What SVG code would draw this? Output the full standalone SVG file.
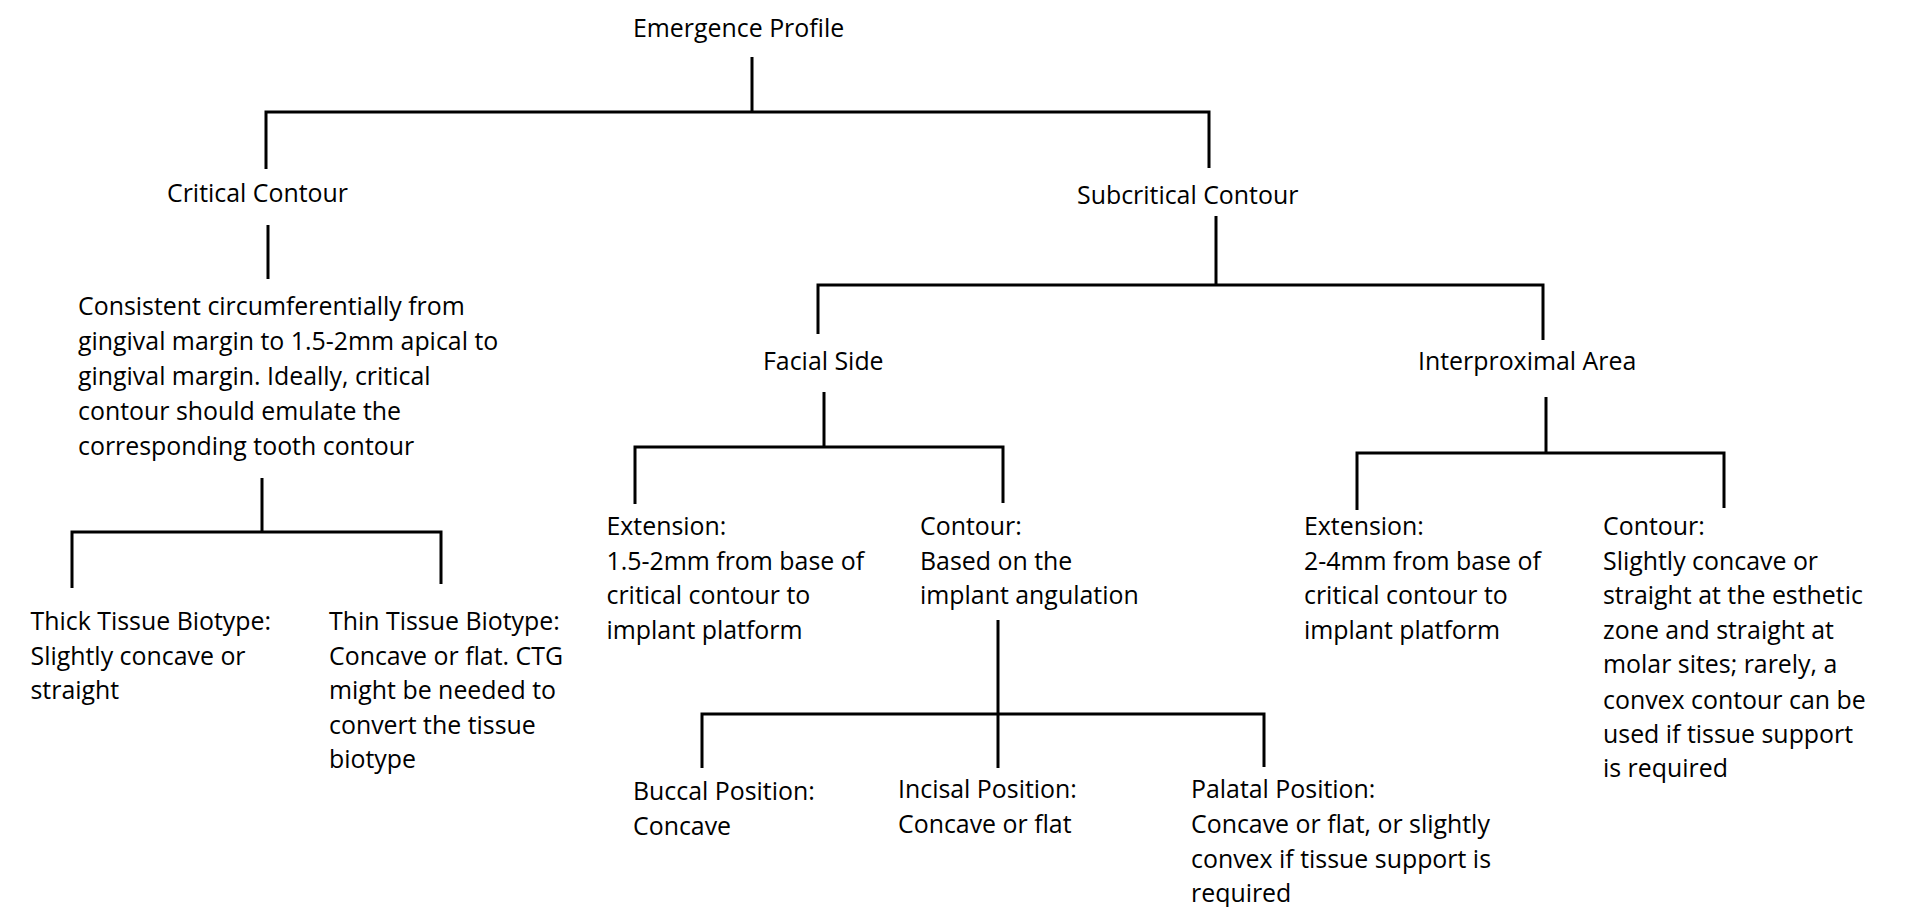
<svg xmlns="http://www.w3.org/2000/svg" width="1913" height="907" viewBox="0 0 1913 907">
<style>
  text { font-family: "Open Sans", "Noto Sans", "Liberation Sans", sans-serif; font-size: 24.9px; fill: #000; }
  .conn path { fill: none; stroke: #000; stroke-width: 3; stroke-linecap: butt; stroke-linejoin: miter; }
</style>
<rect x="0" y="0" width="1913" height="907" fill="#fff"/>
<g id="connectors" class="conn">
  <path d="M752,57 V112"/>
  <path d="M266,169 V112 H1209 V168"/>
  <path d="M268,225 V279"/>
  <path d="M1216,216 V285"/>
  <path d="M818,334 V285 H1543 V340"/>
  <path d="M262,478 V532"/>
  <path d="M72,588 V532 H441 V584"/>
  <path d="M824,392 V447"/>
  <path d="M635,504 V447 H1003 V503"/>
  <path d="M1546,397 V452"/>
  <path d="M1357,510 V453 H1724 V508"/>
  <path d="M998,620 V768"/>
  <path d="M702,768 V714 H1264 V767"/>
</g>
<g id="n-emergence"><text x="633" y="37">Emergence Profile</text></g>
<g id="n-critical"><text x="167" y="202">Critical Contour</text></g>
<g id="n-subcritical"><text x="1077" y="204">Subcritical Contour</text></g>
<g id="n-critical-desc"><text>
  <tspan x="78" y="315">Consistent circumferentially from</tspan>
  <tspan x="78" y="350">gingival margin to 1.5-2mm apical to</tspan>
  <tspan x="78" y="385">gingival margin. Ideally, critical</tspan>
  <tspan x="78" y="420">contour should emulate the</tspan>
  <tspan x="78" y="455">corresponding tooth contour</tspan>
</text></g>
<g id="n-thick"><text>
  <tspan x="30.5" y="630">Thick Tissue Biotype:</tspan>
  <tspan x="30.5" y="665">Slightly concave or</tspan>
  <tspan x="30.5" y="699">straight</tspan>
</text></g>
<g id="n-thin"><text>
  <tspan x="329" y="630">Thin Tissue Biotype:</tspan>
  <tspan x="329" y="665">Concave or flat. CTG</tspan>
  <tspan x="329" y="699">might be needed to</tspan>
  <tspan x="329" y="734">convert the tissue</tspan>
  <tspan x="329" y="768">biotype</tspan>
</text></g>
<g id="n-facial"><text x="763" y="370">Facial Side</text></g>
<g id="n-interproximal"><text x="1418" y="370">Interproximal Area</text></g>
<g id="n-facial-extension"><text>
  <tspan x="606.5" y="535">Extension:</tspan>
  <tspan x="606.5" y="570">1.5-2mm from base of</tspan>
  <tspan x="606.5" y="604">critical contour to</tspan>
  <tspan x="606.5" y="639">implant platform</tspan>
</text></g>
<g id="n-facial-contour"><text>
  <tspan x="920" y="535">Contour:</tspan>
  <tspan x="920" y="570">Based on the</tspan>
  <tspan x="920" y="604">implant angulation</tspan>
</text></g>
<g id="n-inter-extension"><text>
  <tspan x="1304" y="535">Extension:</tspan>
  <tspan x="1304" y="570">2-4mm from base of</tspan>
  <tspan x="1304" y="604">critical contour to</tspan>
  <tspan x="1304" y="639">implant platform</tspan>
</text></g>
<g id="n-inter-contour"><text>
  <tspan x="1603" y="535">Contour:</tspan>
  <tspan x="1603" y="570">Slightly concave or</tspan>
  <tspan x="1603" y="604">straight at the esthetic</tspan>
  <tspan x="1603" y="639">zone and straight at</tspan>
  <tspan x="1603" y="673">molar sites; rarely, a</tspan>
  <tspan x="1603" y="709">convex contour can be</tspan>
  <tspan x="1603" y="743">used if tissue support</tspan>
  <tspan x="1603" y="777">is required</tspan>
</text></g>
<g id="n-buccal"><text>
  <tspan x="633" y="800">Buccal Position:</tspan>
  <tspan x="633" y="835">Concave</tspan>
</text></g>
<g id="n-incisal"><text>
  <tspan x="898" y="798">Incisal Position:</tspan>
  <tspan x="898" y="833">Concave or flat</tspan>
</text></g>
<g id="n-palatal"><text>
  <tspan x="1191" y="798">Palatal Position:</tspan>
  <tspan x="1191" y="833">Concave or flat, or slightly</tspan>
  <tspan x="1191" y="868">convex if tissue support is</tspan>
  <tspan x="1191" y="902">required</tspan>
</text></g>
</svg>
